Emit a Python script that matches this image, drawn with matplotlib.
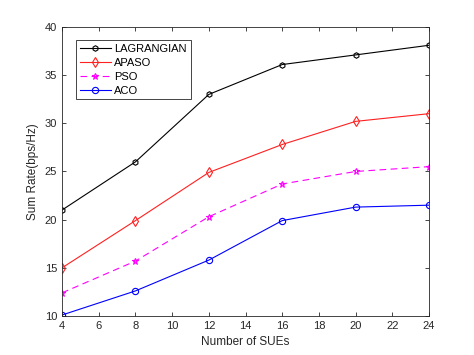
import matplotlib
matplotlib.use('Agg')
import matplotlib.pyplot as plt

plt.rcParams['font.family'] = ['Liberation Sans', 'DejaVu Sans']

sues = [4, 8, 12, 16, 20, 24]
lagrangian = [21.0, 26.0, 33.0, 36.1, 37.1, 38.1]
apaso = [15.0, 19.9, 24.9, 27.8, 30.2, 31.0]
pso = [12.4, 15.7, 20.3, 23.7, 25.0, 25.5]
aco = [10.1, 12.6, 15.8, 19.9, 21.3, 21.5]

fig = plt.figure(figsize=(4.74, 3.55), dpi=100)
ax = fig.add_axes([0.131, 0.110, 0.774, 0.814])

ax.plot(sues, lagrangian, color='black', lw=0.8, marker='h', ms=4, mfc='none', mew=0.8, label='LAGRANGIAN')
ax.plot(sues, apaso, color='#ff2020', lw=0.8, marker='d', ms=5, mfc='none', mew=0.8, label='APASO')
ax.plot(sues, pso, color='#ff00ff', lw=0.8, ls=(0, (6, 4)), marker='*', ms=5, mfc='none', mew=0.8, label='PSO')
ax.plot(sues, aco, color='#0000ff', lw=0.8, marker='o', ms=4.5, mfc='none', mew=0.8, label='ACO')

ax.set_xlim(4, 24)
ax.set_ylim(10, 40)
ax.set_xticks(range(4, 25, 2))
ax.set_yticks(range(10, 41, 5))
ax.tick_params(direction='in', top=True, right=True, labelsize=8, colors='#262626', length=3, width=0.6)
for s in ax.spines.values():
    s.set_linewidth(0.6)
    s.set_color('#262626')

ax.set_xlabel('Number of SUEs', fontsize=8.5, color='#262626')
ax.set_ylabel('Sum Rate(bps/Hz)', fontsize=8.5, color='#262626')

leg = ax.legend(loc='upper left', bbox_to_anchor=(0.038, 0.955), fontsize=8, fancybox=False,
                framealpha=1, edgecolor='#262626', borderpad=0.35, labelspacing=0.35,
                handlelength=2.8, handletextpad=0.3, borderaxespad=0)
leg.get_frame().set_linewidth(0.6)

fig.savefig('out.png', dpi=100)
